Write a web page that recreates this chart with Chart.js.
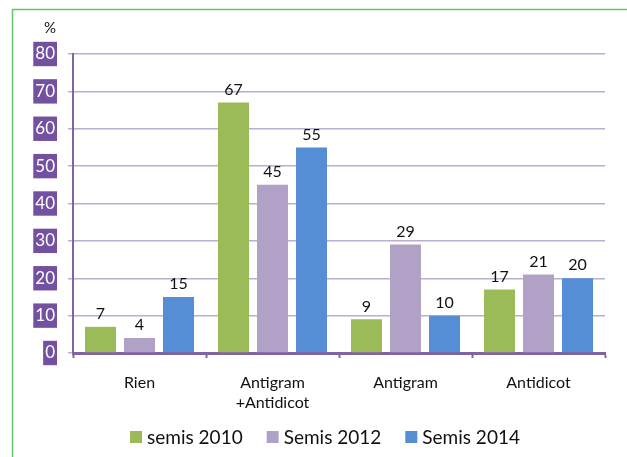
<!DOCTYPE html>
<html>
<head>
<meta charset="utf-8">
<script src="https://cdn.jsdelivr.net/npm/chart.js@4/dist/chart.umd.min.js"></script>
<style>
  body { margin: 0; background: #fff; }
  #box { position: relative; width: 627px; height: 457px; }
</style>
</head>
<body>
<div id="box"><canvas id="chart1"></canvas></div>
<script>
const categories = ["Rien", ["Antigram", "+Antidicot"], "Antigram", "Antidicot"];
const seriesNames = ["semis 2010", "Semis 2012", "Semis 2014"];
const semis2010 = [7, 67, 9, 17];
const semis2012 = [4, 45, 29, 21];
const semis2014 = [15, 55, 10, 20];
const yTicks = [0, 10, 20, 30, 40, 50, 60, 70, 80];
const colors = ["#9bbb59", "#b2a1c7", "#558ed5"];
const fontName = "Lato, 'DejaVu Sans', sans-serif";

// valeurs au-dessus des barres
const valueLabels = {
  id: "valueLabels",
  afterDatasetsDraw(chart) {
    const ctx = chart.ctx;
    ctx.save();
    ctx.font = "16px " + fontName;
    ctx.fillStyle = "#111";
    ctx.textAlign = "center";
    ctx.textBaseline = "bottom";
    chart.data.datasets.forEach(function (ds, i) {
      chart.getDatasetMeta(i).data.forEach(function (bar, j) {
        ctx.fillText(ds.data[j], bar.x, bar.y - 5);
      });
    });
    ctx.restore();
  }
};

// cadre vert, symbole %, legende
const extras = {
  id: "extras",
  afterDraw(chart) {
    const ctx = chart.ctx;
    ctx.save();
    ctx.strokeStyle = "#66c766";
    ctx.lineWidth = 1.5;
    ctx.beginPath();
    ctx.moveTo(12.5, 457);
    ctx.lineTo(12.5, 9.5);
    ctx.lineTo(627, 9.5);
    ctx.stroke();

    ctx.fillStyle = "#111";
    ctx.font = "15px " + fontName;
    ctx.textAlign = "center";
    ctx.textBaseline = "middle";
    ctx.fillText("%", 50, 28);

    ctx.font = "19px " + fontName;
    ctx.textAlign = "left";
    const widths = chart.data.datasets.map(function (ds) {
      return 12 + 5 + ctx.measureText(ds.label).width;
    });
    const total = widths.reduce(function (a, b) { return a + b; }, 0) + 24 * (widths.length - 1);
    let x = 325 - total / 2;
    const y = 437;
    chart.data.datasets.forEach(function (ds, i) {
      ctx.fillStyle = ds.backgroundColor;
      ctx.fillRect(x, y - 6, 12, 12);
      ctx.fillStyle = "#111";
      ctx.fillText(ds.label, x + 17, y + 1);
      x += widths[i] + 24;
    });
    ctx.restore();
  }
};

new Chart("chart1", {
  type: "bar",
  data: {
    labels: categories,
    datasets: [
      { label: seriesNames[0], data: semis2010, backgroundColor: colors[0] },
      { label: seriesNames[1], data: semis2012, backgroundColor: colors[1] },
      { label: seriesNames[2], data: semis2014, backgroundColor: colors[2] }
    ]
  },
  options: {
    responsive: true,
    maintainAspectRatio: false,
    animation: false,
    datasets: {
      bar: { barPercentage: 0.795, categoryPercentage: 0.88 }
    },
    layout: { padding: { left: 0, top: 54, right: 22, bottom: 0 } },
    plugins: {
      legend: { display: false },
      tooltip: { enabled: false }
    },
    scales: {
      x: {
        grid: {
          offset: true,
          drawOnChartArea: false,
          drawTicks: true,
          tickLength: 5,
          tickColor: "#8064a2",
          tickWidth: 2
        },
        border: { color: "#8064a2", width: 3 },
        ticks: {
          color: "#111",
          padding: 15,
          font: { family: fontName, size: 16, lineHeight: 1.25 },
          maxRotation: 0
        },
        afterFit(scale) { scale.height = 104; }
      },
      y: {
        min: 0,
        max: 80,
        afterBuildTicks(scale) {
          scale.ticks = yTicks.map(function (v) { return { value: v }; });
        },
        grid: {
          color: "#bcaed3",
          lineWidth: 1.5,
          tickLength: 5,
          tickColor: "#bcaed3"
        },
        border: { color: "#8064a2", width: 2 },
        ticks: {
          color: "#fff",
          padding: 13,
          font: { family: fontName, size: 17 },
          showLabelBackdrop: true,
          backdropColor: "#7451a0",
          backdropPadding: { x: 2, y: 2 }
        },
        afterFit(scale) { scale.width = 73; }
      }
    }
  },
  plugins: [valueLabels, extras]
});
</script>
</body>
</html>
